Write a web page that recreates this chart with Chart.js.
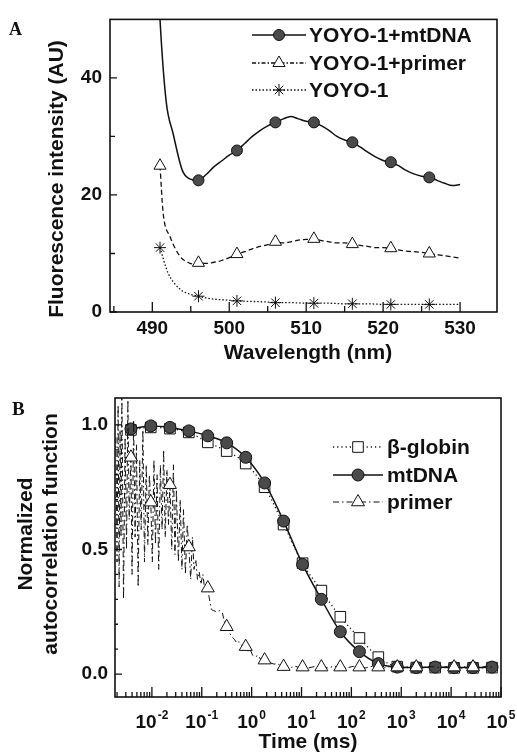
<!DOCTYPE html>
<html>
<head>
<meta charset="utf-8">
<script src="https://cdn.jsdelivr.net/npm/chart.js@4.4.0/dist/chart.umd.min.js"></script>
<style>
  html, body { margin: 0; padding: 0; background: #fff; }
  #wrap { position: relative; width: 517px; height: 753px; }
  canvas { position: absolute; left: 0; }
  #chartA { top: 0; }
  #chartB { top: 365px; }
</style>
</head>
<body>
<div id="wrap">
  <canvas id="chartA" width="517" height="365"></canvas>
  <canvas id="chartB" width="517" height="388"></canvas>
</div>
<script>
// ---- panel A: emission spectra ----
const wlMt = [490.8, 491, 491.8, 492.7, 493.9, 494.8, 496, 497, 498, 499, 500, 501, 502, 503, 504, 505, 506, 507, 508, 509, 510, 511, 512, 513, 514, 515, 516, 517, 518, 519, 520, 521, 522, 523, 524, 525, 526, 527, 528, 529, 530];
const fMt = [56, 50, 36, 30.5, 24.2, 22.8, 22.5, 23.5, 24.8, 25.8, 26.8, 27.6, 28.8, 30, 31, 31.8, 32.4, 33, 33.4, 33, 32.6, 32.4, 31.8, 31, 30, 29.4, 29.0, 28.2, 27.3, 26.5, 25.9, 25.6, 25, 24.2, 23.6, 23.2, 23.0, 22.5, 22, 21.6, 21.8];
const wlPr = [491, 491.4, 492.3, 493.6, 494.6, 495.3, 496, 497, 498, 499, 500, 501, 502, 503, 504, 505, 506, 507, 508, 509, 510, 511, 512, 513, 514, 515, 516, 517, 518, 519, 520, 521, 522, 523, 524, 525, 526, 527, 528, 529, 530];
const fPr = [25, 17, 12.9, 9.5, 8.5, 8.2, 8.4, 8.3, 8.5, 8.8, 9.3, 9.9, 10.3, 10.8, 11.2, 11.5, 12, 11.8, 12, 12.3, 12.4, 12.5, 12.2, 12, 11.8, 11.8, 11.6, 11.4, 11.2, 11, 11, 10.9, 10.6, 10.4, 10.3, 10.2, 10, 9.8, 9.6, 9.4, 9.2];
const wlDye = [491, 492, 493.6, 495, 496, 497, 498, 499, 500, 501, 503, 505, 506, 508, 510, 511, 513, 515, 516, 518, 520, 521, 523, 525, 526, 528, 530];
const fDye = [11, 6.8, 3.9, 3.0, 2.7, 2.4, 2.2, 2.1, 2.0, 1.9, 1.8, 1.7, 1.6, 1.6, 1.5, 1.5, 1.5, 1.4, 1.4, 1.4, 1.3, 1.3, 1.3, 1.3, 1.3, 1.3, 1.3];
const marksA = [491, 496, 501, 506, 511, 516, 521, 526];
const xTicksA = [490, 500, 510, 520, 530];
const xMinorA = [485, 495, 505, 515, 525];
const yTicksA = [0, 20, 40];
const yMinorA = [10, 30];

// ---- panel B: autocorrelation ----
const tauMarks = [0.0038, 0.0095, 0.023, 0.055, 0.132, 0.316, 0.76, 1.82, 4.37, 10.5, 25, 60, 145, 347, 832, 2000, 4786, 11480, 27500, 66000];
const gMt = [0.984, 0.996, 0.99, 0.976, 0.956, 0.928, 0.87, 0.767, 0.614, 0.44, 0.30, 0.17, 0.09, 0.042, 0.028, 0.026, 0.028, 0.026, 0.026, 0.028];
const gGlob = [0.98, 0.99, 0.985, 0.97, 0.93, 0.895, 0.845, 0.75, 0.60, 0.445, 0.335, 0.23, 0.145, 0.068, 0.03, 0.026, 0.026, 0.025, 0.025, 0.026];
const tPr = [0.0019, 0.0020, 0.0021, 0.0022, 0.0023, 0.0024, 0.0025, 0.0027, 0.0029, 0.0031, 0.0033, 0.0035, 0.0038, 0.0040, 0.0043, 0.0046, 0.0049, 0.0053, 0.0057, 0.0061, 0.0066, 0.0071, 0.0077, 0.0083, 0.0089, 0.0095, 0.0102, 0.011, 0.0118, 0.0127, 0.0137, 0.0148, 0.016, 0.0172, 0.0185, 0.020, 0.0215, 0.023, 0.025, 0.027, 0.029, 0.031, 0.034, 0.037, 0.040, 0.043, 0.047, 0.051, 0.055, 0.060, 0.065, 0.070, 0.076, 0.082, 0.089, 0.096, 0.105, 0.115, 0.125, 0.132, 0.14, 0.155, 0.17, 0.2, 0.23, 0.26, 0.29, 0.316, 0.35, 0.40, 0.45, 0.50, 0.56, 0.63, 0.70, 0.76, 0.85, 0.95, 1.05, 1.2, 1.35, 1.5, 1.65, 1.82, 2.1, 2.4, 2.8, 3.2, 3.8, 4.37, 5.2, 6.3, 7.6, 9, 10.5, 14, 19, 25, 33, 45, 60, 80, 110, 145, 195, 260, 347, 470, 620, 832, 1120, 1500, 2000, 2700, 3600, 4786, 6400, 8600, 11480, 15500, 20500, 27500, 37000, 49000, 66000];
const gPr = [0.95, 0.45, 1.08, 0.35, 0.98, 0.55, 1.12, 0.30, 0.95, 0.50, 1.10, 0.62, 0.87, 0.40, 1.02, 0.55, 0.92, 0.35, 0.86, 0.58, 0.98, 0.45, 0.84, 0.52, 0.80, 0.69, 0.45, 0.86, 0.52, 0.80, 0.42, 0.84, 0.58, 0.90, 0.55, 0.82, 0.60, 0.76, 0.50, 0.84, 0.48, 0.74, 0.45, 0.70, 0.42, 0.66, 0.40, 0.60, 0.51, 0.38, 0.55, 0.42, 0.46, 0.38, 0.41, 0.36, 0.40, 0.34, 0.36, 0.345, 0.31, 0.26, 0.255, 0.25, 0.255, 0.245, 0.2, 0.19, 0.17, 0.15, 0.14, 0.125, 0.13, 0.115, 0.11, 0.11, 0.09, 0.095, 0.075, 0.07, 0.075, 0.06, 0.065, 0.056, 0.05, 0.045, 0.04, 0.042, 0.035, 0.03, 0.033, 0.027, 0.031, 0.026, 0.028, 0.025, 0.031, 0.028, 0.025, 0.031, 0.028, 0.025, 0.031, 0.028, 0.025, 0.031, 0.028, 0.025, 0.031, 0.028, 0.025, 0.031, 0.028, 0.025, 0.031, 0.028, 0.025, 0.031, 0.028, 0.025, 0.031, 0.028, 0.025, 0.031, 0.028];
const primerMarks = [0.0038, 0.0095, 0.023, 0.055, 0.132, 0.316, 0.76, 1.82, 4.37, 10.5, 25, 60, 145, 347, 832, 2000, 11480, 27500];
const xExpB = [-2, -1, 0, 1, 2, 3, 4, 5];
const yTicksB = [0, 0.5, 1.0];
const yMinorB = [0.1, 0.2, 0.3, 0.4, 0.6, 0.7, 0.8, 0.9];

const INK = '#111';
const SANS = '"Liberation Sans", Arial, sans-serif';
const SERIF = '"Liberation Serif", "Times New Roman", serif';

Chart.defaults.font.family = SANS;
Chart.defaults.color = INK;

function pts(xs, ys) {
  return xs.map((x, i) => ({ x: x, y: ys[i] }));
}

function markRadius(marks, r) {
  return (c) => (c.raw && marks.includes(c.raw.x)) ? r : 0;
}

// frame, inward ticks, titles and key are drawn here
const framePlugin = {
  id: 'frame',
  afterDraw(chart, args, o) {
    const { ctx, chartArea: a } = chart;
    const sx = chart.scales.x, sy = chart.scales.y;
    ctx.save();
    ctx.strokeStyle = INK;
    ctx.lineWidth = 1.6;
    ctx.strokeRect(a.left, a.top, a.right - a.left, a.bottom - a.top);

    ctx.lineWidth = 1.3;
    ctx.beginPath();
    const tick = (scale, vals, len, horiz) => vals.forEach((v) => {
      const p = scale.getPixelForValue(v);
      if (horiz) { ctx.moveTo(p, a.bottom); ctx.lineTo(p, a.bottom - len); }
      else { ctx.moveTo(a.left, p); ctx.lineTo(a.left + len, p); }
    });
    tick(sx, o.xMajor, o.xMajorLen, true);
    tick(sx, o.xMinor, o.xMinorLen, true);
    tick(sy, o.yMajor, o.yMajorLen, false);
    tick(sy, o.yMinor, o.yMinorLen, false);
    ctx.stroke();

    ctx.fillStyle = INK;
    (o.texts || []).forEach((t) => {
      ctx.save();
      ctx.font = t.font;
      ctx.textAlign = t.align || 'center';
      ctx.textBaseline = t.baseline || 'middle';
      ctx.translate(t.x, t.y);
      if (t.rot) ctx.rotate(t.rot);
      ctx.fillText(t.text, 0, 0);
      ctx.restore();
    });

    if (o.powers) {
      const pw = o.powers;
      pw.exps.forEach((e) => {
        const p = sx.getPixelForValue(Math.pow(10, e));
        ctx.font = pw.font;
        const w1 = ctx.measureText('10').width;
        ctx.font = pw.supFont;
        const sup = String(e);
        const w2 = ctx.measureText(sup).width;
        const x0 = p - (w1 + w2 + 1) / 2;
        ctx.textAlign = 'left';
        ctx.textBaseline = 'alphabetic';
        ctx.font = pw.font;
        ctx.fillText('10', x0, pw.y);
        ctx.font = pw.supFont;
        ctx.fillText(sup, x0 + w1 + 1, pw.y - pw.supDy);
      });
    }

    if (o.key) {
      const k = o.key;
      k.items.forEach((it, i) => {
        const y = k.rows[i];
        ctx.save();
        ctx.strokeStyle = INK;
        ctx.lineWidth = it.width;
        ctx.setLineDash(it.dash);
        ctx.beginPath();
        ctx.moveTo(k.x0, y);
        ctx.lineTo(k.x1, y);
        ctx.stroke();
        ctx.setLineDash([]);
        ctx.fillStyle = it.fill;
        ctx.lineWidth = it.borderWidth;
        Chart.helpers.drawPoint(ctx, { pointStyle: it.style, radius: it.radius, rotation: 0, borderWidth: it.borderWidth }, k.mx, y);
        ctx.restore();
        ctx.fillStyle = INK;
        ctx.font = k.font;
        ctx.textAlign = 'left';
        ctx.textBaseline = 'middle';
        ctx.fillText(it.label, k.tx, y + 1);
      });
    }
    ctx.restore();
  }
};

const tickFont = { family: SANS, size: 19, weight: 'bold' };
const titleFont = 'bold 21px ' + SANS;
const noGrid = { display: false, drawTicks: false };

// ---------------- chart A ----------------
new Chart(document.getElementById('chartA'), {
  type: 'line',
  data: {
    datasets: [
      {
        label: 'YOYO-1+mtDNA',
        data: pts(wlMt, fMt),
        borderColor: INK, borderWidth: 1.5,
        cubicInterpolationMode: 'monotone',
        pointStyle: 'circle',
        pointRadius: markRadius(marksA.slice(1), 5.5),
        pointBackgroundColor: '#4a4a4a', pointBorderColor: INK, pointBorderWidth: 1
      },
      {
        label: 'YOYO-1+primer',
        data: pts(wlPr, fPr),
        borderColor: INK, borderWidth: 1.3, borderDash: [5, 3],
        cubicInterpolationMode: 'monotone',
        pointStyle: 'triangle',
        pointRadius: markRadius(marksA, 7),
        pointBackgroundColor: '#fff', pointBorderColor: INK, pointBorderWidth: 1
      },
      {
        label: 'YOYO-1',
        data: pts(wlDye, fDye),
        borderColor: INK, borderWidth: 1.3, borderDash: [1.5, 2],
        cubicInterpolationMode: 'monotone',
        pointStyle: 'star',
        pointRadius: markRadius(marksA, 6),
        pointBackgroundColor: '#fff', pointBorderColor: INK, pointBorderWidth: 1
      }
    ]
  },
  options: {
    responsive: false,
    animation: false,
    events: [],
    layout: { padding: { top: 16, right: 20, left: 0, bottom: 0 } },
    plugins: {
      legend: { display: false },
      tooltip: { enabled: false },
      frame: {
        xMajor: xTicksA, xMinor: xMinorA, xMajorLen: 10, xMinorLen: 6,
        yMajor: yTicksA, yMinor: yMinorA, yMajorLen: 7, yMinorLen: 5,
        texts: [
          { text: 'A', x: 9, y: 35, font: 'bold 18px ' + SERIF, align: 'left', baseline: 'alphabetic' },
          { text: 'Fluorescence intensity (AU)', x: 57, y: 179, rot: -Math.PI / 2, font: titleFont },
          { text: 'Wavelength (nm)', x: 308, y: 359, font: titleFont, baseline: 'alphabetic' }
        ],
        key: {
          x0: 252, x1: 306, mx: 279, tx: 309, rows: [35, 63, 90], font: titleFont,
          items: [
            { label: 'YOYO-1+mtDNA', dash: [], width: 1.5, style: 'circle', radius: 5.5, fill: '#4a4a4a', borderWidth: 1 },
            { label: 'YOYO-1+primer', dash: [4, 2, 1.5, 2], width: 1.3, style: 'triangle', radius: 7, fill: '#fff', borderWidth: 1 },
            { label: 'YOYO-1', dash: [1.5, 2], width: 1.3, style: 'star', radius: 6, fill: '#fff', borderWidth: 1 }
          ]
        }
      }
    },
    scales: {
      x: {
        type: 'linear', min: 484.5, max: 534.8,
        afterBuildTicks: (s) => { s.ticks = xTicksA.map((v) => ({ value: v })); },
        ticks: { autoSkip: false, maxRotation: 0, padding: 5, font: tickFont, color: INK },
        grid: noGrid, border: { display: false },
        afterFit: (s) => { s.height = 53; }
      },
      y: {
        type: 'linear', min: 0, max: 50,
        afterBuildTicks: (s) => { s.ticks = yTicksA.map((v) => ({ value: v })); },
        ticks: { padding: 8, font: tickFont, color: INK },
        grid: noGrid, border: { display: false },
        afterFit: (s) => { s.width = 110; }
      }
    }
  },
  plugins: [framePlugin]
});

// ---------------- chart B ----------------
const xMinorB = [];
for (let e = -3; e <= 4; e++) {
  for (let m = 2; m <= 9; m++) {
    const v = m * Math.pow(10, e);
    if (v > 0.00182 && v < 100000) xMinorB.push(v);
  }
}

new Chart(document.getElementById('chartB'), {
  type: 'line',
  data: {
    datasets: [
      {
        label: 'primer',
        order: 0,
        data: pts(tPr, gPr),
        borderColor: INK, borderWidth: 1, borderDash: [6, 3, 1.5, 3],
        tension: 0,
        pointStyle: 'triangle',
        pointRadius: markRadius(primerMarks, 7.5),
        pointBackgroundColor: '#fff', pointBorderColor: INK, pointBorderWidth: 1
      },
      {
        label: 'mtDNA',
        order: 1,
        data: pts(tauMarks, gMt),
        borderColor: INK, borderWidth: 1.5,
        cubicInterpolationMode: 'monotone',
        pointStyle: 'circle',
        pointRadius: 6,
        pointBackgroundColor: '#4a4a4a', pointBorderColor: INK, pointBorderWidth: 1
      },
      {
        label: 'β-globin',
        order: 2,
        data: pts(tauMarks, gGlob),
        borderColor: INK, borderWidth: 1.3, borderDash: [1.2, 3],
        cubicInterpolationMode: 'monotone',
        pointStyle: 'rect',
        pointRadius: 7.5,
        pointBackgroundColor: '#fff', pointBorderColor: INK, pointBorderWidth: 1
      }
    ]
  },
  options: {
    responsive: false,
    animation: false,
    events: [],
    layout: { padding: { top: 33, right: 16, left: 0, bottom: 0 } },
    plugins: {
      legend: { display: false },
      tooltip: { enabled: false },
      frame: {
        xMajor: xExpB.map((e) => Math.pow(10, e)), xMinor: xMinorB, xMajorLen: 10, xMinorLen: 5,
        yMajor: yTicksB, yMinor: yMinorB, yMajorLen: 7, yMinorLen: 3,
        texts: [
          { text: 'B', x: 12, y: 50, font: 'bold 19px ' + SERIF, align: 'left', baseline: 'alphabetic' },
          { text: 'Normalized', x: 26, y: 169, rot: -Math.PI / 2, font: titleFont },
          { text: 'autocorrelation function', x: 51, y: 169, rot: -Math.PI / 2, font: titleFont },
          { text: 'Time (ms)', x: 308, y: 383, font: titleFont, baseline: 'alphabetic' }
        ],
        powers: { exps: xExpB, y: 363, supDy: 9, font: 'bold 19px ' + SANS, supFont: 'bold 12px ' + SANS },
        key: {
          x0: 333, x1: 383, mx: 358, tx: 387, rows: [82, 110, 137], font: titleFont,
          items: [
            { label: 'β-globin', dash: [1.2, 3], width: 1.3, style: 'rect', radius: 7.5, fill: '#fff', borderWidth: 1 },
            { label: 'mtDNA', dash: [], width: 1.5, style: 'circle', radius: 6, fill: '#4a4a4a', borderWidth: 1 },
            { label: 'primer', dash: [6, 3, 1.5, 3], width: 1.2, style: 'triangle', radius: 7.5, fill: '#fff', borderWidth: 1 }
          ]
        }
      }
    },
    scales: {
      x: {
        type: 'logarithmic', min: 0.00182, max: 100000,
        ticks: { display: false },
        grid: noGrid, border: { display: false },
        afterFit: (s) => { s.height = 56; }
      },
      y: {
        type: 'linear', min: -0.092, max: 1.108,
        afterBuildTicks: (s) => { s.ticks = yTicksB.map((v) => ({ value: v })); },
        ticks: { padding: 7, font: tickFont, color: INK, callback: (v) => Number(v).toFixed(1) },
        grid: noGrid, border: { display: false },
        afterFit: (s) => { s.width = 115; }
      }
    }
  },
  plugins: [framePlugin]
});
</script>
</body>
</html>
